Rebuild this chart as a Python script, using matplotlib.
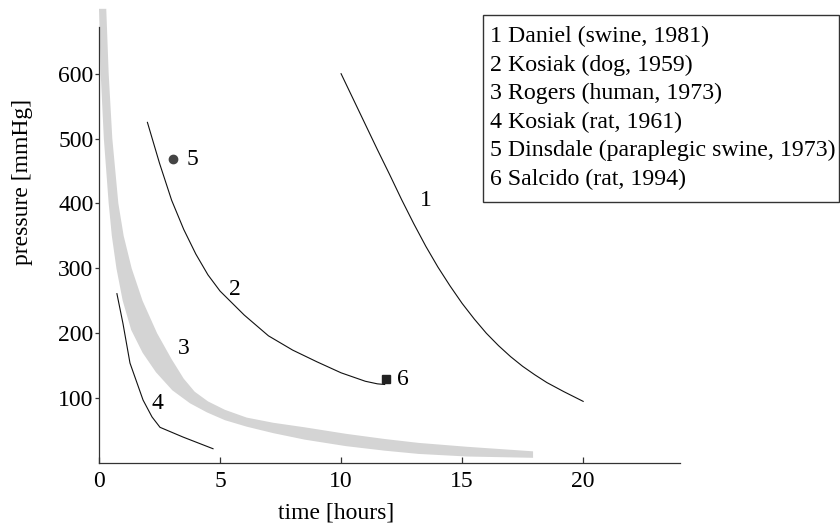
import matplotlib
matplotlib.use('Agg')
import matplotlib.pyplot as plt
from matplotlib.patches import Rectangle

plt.rcParams['font.family'] = ['Liberation Serif', 'DejaVu Serif']
plt.rcParams['font.size'] = 17

# 1 Daniel (swine)
daniel_t = [10.0, 10.5, 11.0, 11.5, 12.0, 12.5, 13.0, 13.5, 14.0, 14.5, 15.0,
            15.5, 16.0, 16.5, 17.0, 17.5, 18.0, 18.5, 19.2, 20.0]
daniel_p = [600, 561, 522, 483, 445, 406, 369, 334, 302, 273, 246,
            222, 200, 181, 164, 149, 136, 124, 110, 95]

# 2 Kosiak (dog)
dog_t = [2.0, 2.5, 3.0, 3.5, 4.0, 4.5, 5.0, 6.0, 7.0, 8.0, 9.0, 10.0, 11.0, 11.5, 11.8]
dog_p = [525, 462, 405, 360, 322, 290, 265, 228, 196, 174, 156, 139, 126, 122, 121]

# 3 Rogers (human) - band, upper and lower edge
band_hi_t = [0.30, 0.40, 0.55, 0.80, 1.02, 1.35, 1.80, 2.4, 3.0, 3.5, 3.95,
             4.5, 5.2, 6.1, 7.2, 8.5, 10.2, 11.8, 13.2, 15.2, 17.93]
band_hi_p = [700, 600, 500, 400, 350, 300, 250, 200, 160, 130, 110,
             95, 82, 70, 62, 55, 45, 37, 31, 25, 18]
band_lo_t = [0.0, 0.07, 0.2, 0.40, 0.53, 0.72, 0.98, 1.33, 1.80, 2.35, 3.03,
             3.76, 4.46, 5.2, 6.1, 7.2, 8.5, 10.2, 11.8, 13.2, 15.2, 17.93]
band_lo_p = [700, 600, 500, 400, 350, 300, 250, 205, 170, 140, 112,
             92, 78, 66, 56, 46, 36, 26, 19, 14, 10, 8]

# 4 Kosiak (rat)
rat_t = [0.74, 0.99, 1.28, 1.82, 2.19, 2.52, 3.47, 4.71]
rat_p = [261, 215, 154, 97, 71, 55, 40, 22]

# 5 Dinsdale, 6 Salcido - single points
dinsdale = (3.06, 468)
salcido = (11.86, 129)

legend_lines = [
    '1 Daniel (swine, 1981)',
    '2 Kosiak (dog, 1959)',
    '3 Rogers (human, 1973)',
    '4 Kosiak (rat, 1961)',
    '5 Dinsdale (paraplegic swine, 1973)',
    '6 Salcido (rat, 1994)',
]

fig = plt.figure(figsize=(8.4, 5.27), dpi=100)
ax = fig.add_axes([99/840, 64/527, 581/840, 436/527])

# gray band
ax.fill(band_hi_t + band_lo_t[::-1], band_hi_p + band_lo_p[::-1],
        color='#d4d4d4', lw=0, clip_on=False, zorder=1)

ax.plot(daniel_t, daniel_p, color='#111111', lw=0.8, zorder=2)
ax.plot(dog_t, dog_p, color='#111111', lw=0.8, zorder=2)
ax.plot(rat_t, rat_p, color='#111111', lw=0.8, zorder=2)
ax.plot(*dinsdale, 'o', color='#444444', ms=6, zorder=3)
ax.plot(*salcido, 's', color='#222222', ms=6, zorder=3)

# curve numbers
ax.text(13.5, 405, '1', ha='center', va='center')
ax.text(5.6, 268, '2', ha='center', va='center')
ax.text(3.5, 177, '3', ha='center', va='center')
ax.text(2.4, 92, '4', ha='center', va='center')
ax.text(3.85, 468, '5', ha='center', va='center')
ax.text(12.56, 129, '6', ha='center', va='center')

ax.set_xlim(0, 24)
ax.set_ylim(0, 672)
ax.set_xticks([0, 5, 10, 15, 20])
ax.set_yticks([100, 200, 300, 400, 500, 600])
ax.spines['top'].set_visible(False)
ax.spines['right'].set_visible(False)
for s in ['left', 'bottom']:
    ax.spines[s].set_color('#333333')
    ax.spines[s].set_linewidth(0.9)
ax.tick_params(axis='x', direction='in', length=4.5, width=0.9, color='#333333', pad=6)
ax.tick_params(axis='y', direction='out', length=3, width=0.9, color='#333333', pad=1)

fig.text(336/840, 1 - 513/527, 'time [hours]', ha='center', va='center')
fig.text(23/840, 1 - 182/527, 'pressure [mmHg]', ha='center', va='center', rotation=90)

# legend box
box = Rectangle((483/840, 1 - 202/527), (839 - 483)/840, (202 - 15)/527,
                transform=fig.transFigure, fill=False, ec='#333333', lw=1)
fig.add_artist(box)
for i, line in enumerate(legend_lines):
    fig.text(490/840, 1 - (42 + 28.6*i)/527, line, va='baseline', fontsize=17.2)

fig.savefig('out.png', dpi=100)
